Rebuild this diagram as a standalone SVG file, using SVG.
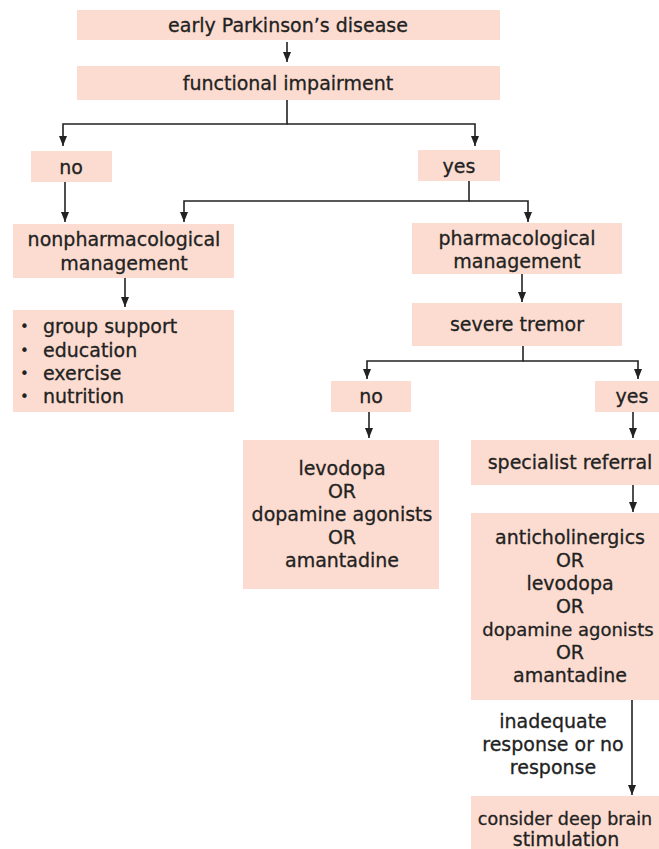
<svg xmlns="http://www.w3.org/2000/svg" width="659" height="849" viewBox="0 0 659 849">
<defs>
<style>
.box{fill:#fcdcd0;}
.t{font-family:"DejaVu Sans",sans-serif;font-size:19px;fill:#222;stroke:#222;stroke-width:0.3;text-anchor:middle;}
.l{font-family:"DejaVu Sans",sans-serif;font-size:19px;fill:#222;stroke:#222;stroke-width:0.3;}
.b{font-family:"DejaVu Sans",sans-serif;font-size:15px;fill:#222;}
.c{fill:none;stroke:#222;stroke-width:1.6;}
</style>
<marker id="ah" viewBox="0 0 10 8" refX="10" refY="4" markerWidth="10" markerHeight="8" markerUnits="userSpaceOnUse" orient="auto">
<path d="M0,0 L10,4 L0,8 Z" fill="#222"/>
</marker>
</defs>
<rect width="659" height="849" fill="#fff"/>
<g id="connectors">
<path class="c" d="M287,42 V62" marker-end="url(#ah)"/>
<path class="c" d="M287,100 V124 H63 V146" marker-end="url(#ah)"/>
<path class="c" d="M287,124 H475 V146" marker-end="url(#ah)"/>
<path class="c" d="M65,182 V222" marker-end="url(#ah)"/>
<path class="c" d="M469,181 V201 H184 V222" marker-end="url(#ah)"/>
<path class="c" d="M469,201 H528 V222" marker-end="url(#ah)"/>
<path class="c" d="M125,278 V307" marker-end="url(#ah)"/>
<path class="c" d="M522,274 V302" marker-end="url(#ah)"/>
<path class="c" d="M523,346 V361 H367 V379" marker-end="url(#ah)"/>
<path class="c" d="M523,361 H638 V379" marker-end="url(#ah)"/>
<path class="c" d="M369,412 V438" marker-end="url(#ah)"/>
<path class="c" d="M633,412 V438" marker-end="url(#ah)"/>
<path class="c" d="M633,485 V512" marker-end="url(#ah)"/>
<path class="c" d="M632,700 V795" marker-end="url(#ah)"/>
<g id="label-inadequate">
<text class="t" x="553" y="728">inadequate</text>
<text class="t" x="553" y="751">response or no</text>
<text class="t" x="553" y="774">response</text>
</g>
</g>
<g id="n-early">
<rect class="box" x="77" y="10" width="423" height="30"/>
<text class="t" x="288" y="32">early Parkinson’s disease</text>
</g>
<g id="n-functional">
<rect class="box" x="77" y="66" width="423" height="34"/>
<text class="t" x="288" y="90">functional impairment</text>
</g>
<g id="n-no1">
<rect class="box" x="31" y="151" width="81" height="31"/>
<text class="t" x="71" y="174">no</text>
</g>
<g id="n-yes1">
<rect class="box" x="418" y="150" width="82" height="31"/>
<text class="t" x="459" y="173">yes</text>
</g>
<g id="n-nonpharm">
<rect class="box" x="13" y="224" width="221" height="54"/>
<text class="t" x="124" y="246">nonpharmacological</text>
<text class="t" x="124" y="270">management</text>
</g>
<g id="n-pharm">
<rect class="box" x="412" y="223" width="210" height="51"/>
<text class="t" x="517" y="245">pharmacological</text>
<text class="t" x="517" y="268">management</text>
</g>
<g id="n-bullets">
<rect class="box" x="13" y="310" width="221" height="102"/>
<text class="b" x="20" y="332">•</text><text class="l" x="43" y="333">group support</text>
<text class="b" x="20" y="356">•</text><text class="l" x="43" y="357">education</text>
<text class="b" x="20" y="379">•</text><text class="l" x="43" y="380">exercise</text>
<text class="b" x="20" y="402">•</text><text class="l" x="43" y="403">nutrition</text>
</g>
<g id="n-tremor">
<rect class="box" x="412" y="303" width="210" height="43"/>
<text class="t" x="517" y="331">severe tremor</text>
</g>
<g id="n-no2">
<rect class="box" x="331" y="381" width="80" height="31"/>
<text class="t" x="371" y="403">no</text>
</g>
<g id="n-yes2">
<rect class="box" x="595" y="381" width="64" height="31"/>
<text class="t" x="632" y="403">yes</text>
</g>
<g id="n-levodopa">
<rect class="box" x="243" y="440" width="196" height="149"/>
<text class="t" x="342" y="475">levodopa</text>
<text class="t" x="342" y="498">OR</text>
<text class="t" x="342" y="521">dopamine agonists</text>
<text class="t" x="342" y="544">OR</text>
<text class="t" x="342" y="567">amantadine</text>
</g>
<g id="n-specialist">
<rect class="box" x="471" y="440" width="188" height="45"/>
<text class="t" x="570" y="469">specialist referral</text>
</g>
<g id="n-anticholinergics">
<rect class="box" x="471" y="513" width="188" height="187"/>
<text class="t" x="570" y="544">anticholinergics</text>
<text class="t" x="570" y="567">OR</text>
<text class="t" x="570" y="590">levodopa</text>
<text class="t" x="570" y="613">OR</text>
<text class="t" x="568" y="636" style="font-size:18px">dopamine agonists</text>
<text class="t" x="570" y="659">OR</text>
<text class="t" x="570" y="682">amantadine</text>
</g>
<g id="n-dbs">
<rect class="box" x="471" y="796" width="188" height="53"/>
<text class="t" x="565" y="825" style="font-size:17.5px">consider deep brain</text>
<text class="t" x="566" y="846">stimulation</text>
</g>
</svg>
